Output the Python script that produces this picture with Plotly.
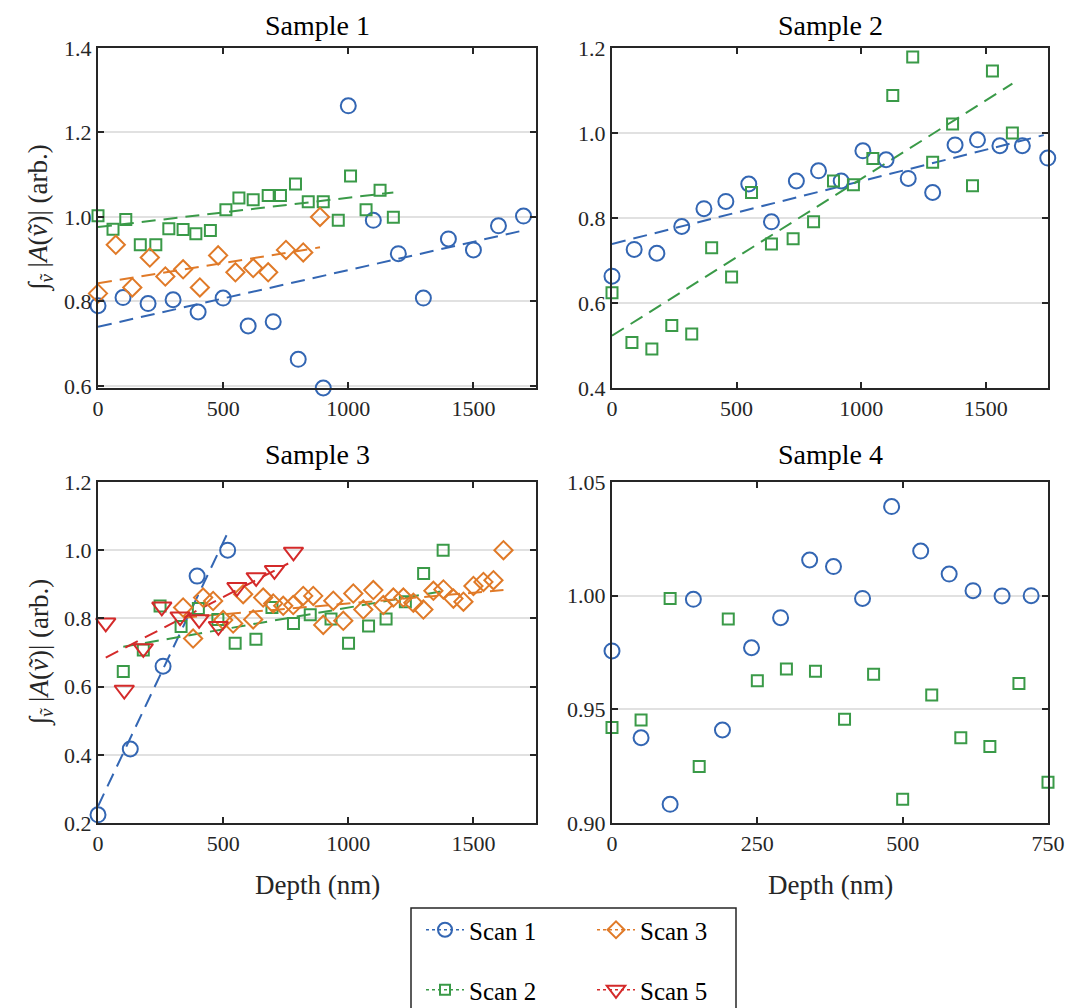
import plotly.graph_objects as go

# ---------------- data ----------------
s1_scan1_x = [0, 100, 200, 300, 400, 500, 600, 700, 800, 900, 1000, 1100, 1200, 1300, 1400, 1500, 1600, 1700]
s1_scan1_y = [0.790, 0.809, 0.795, 0.804, 0.775, 0.808, 0.742, 0.752, 0.663, 0.595, 1.263, 0.992, 0.913, 0.808, 0.948, 0.922, 0.979, 1.002]
s1_scan2_x = [0, 60, 111, 169, 231, 283, 340, 391, 449, 511, 563, 620, 680, 729, 789, 840, 900, 960, 1009, 1071, 1127, 1180]
s1_scan2_y = [1.003, 0.971, 0.994, 0.934, 0.934, 0.972, 0.970, 0.960, 0.968, 1.017, 1.045, 1.041, 1.051, 1.051, 1.078, 1.036, 1.036, 0.992, 1.097, 1.017, 1.063, 0.999]
s1_scan3_x = [0, 71, 137, 207, 269, 340, 407, 480, 549, 620, 680, 751, 820, 887]
s1_scan3_y = [0.819, 0.934, 0.833, 0.904, 0.859, 0.876, 0.833, 0.909, 0.869, 0.879, 0.869, 0.922, 0.916, 1.000]
s1_fit1_x = [0, 1700]; s1_fit1_y = [0.740, 0.968]
s1_fit2_x = [0, 1180]; s1_fit2_y = [0.976, 1.058]
s1_fit3_x = [0, 887];  s1_fit3_y = [0.843, 0.928]

s2_scan1_x = [0, 89, 180, 280, 369, 457, 549, 640, 740, 829, 920, 1007, 1100, 1189, 1287, 1377, 1467, 1557, 1647, 1749]
s2_scan1_y = [0.663, 0.726, 0.717, 0.780, 0.822, 0.839, 0.880, 0.791, 0.887, 0.911, 0.887, 0.958, 0.937, 0.893, 0.860, 0.972, 0.984, 0.970, 0.970, 0.941]
s2_scan2_x = [0, 80, 160, 240, 320, 400, 480, 560, 640, 727, 809, 889, 969, 1047, 1127, 1207, 1287, 1367, 1447, 1527, 1607]
s2_scan2_y = [0.624, 0.507, 0.492, 0.547, 0.527, 0.730, 0.661, 0.860, 0.739, 0.751, 0.791, 0.887, 0.878, 0.940, 1.088, 1.179, 0.931, 1.021, 0.876, 1.146, 1.000]
s2_fit1_x = [0, 1733]; s2_fit1_y = [0.739, 0.995]
s2_fit2_x = [0, 1607]; s2_fit2_y = [0.523, 1.116]

s3_scan1_x = [0, 129, 260, 396, 518]
s3_scan1_y = [0.224, 0.417, 0.660, 0.924, 1.000]
s3_scan2_x = [101, 181, 248, 332, 401, 479, 548, 631, 695, 781, 848, 931, 1001, 1081, 1151, 1228, 1301, 1379]
s3_scan2_y = [0.644, 0.707, 0.836, 0.776, 0.829, 0.797, 0.727, 0.739, 0.832, 0.785, 0.811, 0.798, 0.727, 0.778, 0.798, 0.849, 0.932, 1.000]
s3_scan3_x = [340, 380, 420, 460, 500, 540, 580, 620, 660, 700, 740, 780, 820, 860, 900, 940, 980,
              1020, 1060, 1100, 1140, 1180, 1220, 1260, 1300, 1340, 1380, 1420, 1460, 1500, 1540, 1580, 1620]
s3_scan3_y = [0.832, 0.741, 0.861, 0.851, 0.795, 0.785, 0.871, 0.797, 0.861, 0.844, 0.837, 0.839, 0.866, 0.866, 0.781, 0.852, 0.793,
              0.873, 0.826, 0.883, 0.839, 0.861, 0.861, 0.846, 0.826, 0.881, 0.885, 0.858, 0.849, 0.895, 0.907, 0.912, 1.000]
s3_scan5_x = [31, 105, 181, 255, 328, 404, 481, 555, 632, 705, 781]
s3_scan5_y = [0.787, 0.590, 0.712, 0.834, 0.805, 0.797, 0.777, 0.891, 0.920, 0.941, 0.995]
s3_fit1_x = [0, 520];    s3_fit1_y = [0.249, 1.054]
s3_fit2_x = [101, 1379]; s3_fit2_y = [0.717, 0.880]
s3_fit3_x = [340, 1620]; s3_fit3_y = [0.802, 0.883]
s3_fit5_x = [31, 760];   s3_fit5_y = [0.685, 0.961]

s4_scan1_x = [0, 50, 100, 140, 190, 240, 290, 340, 381, 431, 481, 531, 580, 621, 671, 721]
s4_scan1_y = [0.9757, 0.9375, 0.9082, 0.9984, 0.9409, 0.9771, 0.9903, 1.0157, 1.0128, 0.9988, 1.0392, 1.0196, 1.0095, 1.0022, 0.9999, 1.0000]
s4_scan2_x = [0, 50, 100, 150, 200, 250, 300, 350, 400, 450, 500, 550, 600, 650, 700, 750]
s4_scan2_y = [0.942, 0.9453, 0.9988, 0.9248, 0.9897, 0.9626, 0.9677, 0.9667, 0.9456, 0.9654, 0.9104, 0.9563, 0.9375, 0.9336, 0.9614, 0.9179]

x_ticks_depth = [0, 500, 1000, 1500]
x_ticks_s4 = [0, 250, 500, 750]
y_ticks_s1 = [0.6, 0.8, 1.0, 1.2, 1.4]
y_ticks_s2 = [0.4, 0.6, 0.8, 1.0, 1.2]
y_ticks_s3 = [0.2, 0.4, 0.6, 0.8, 1.0, 1.2]
y_ticks_s4 = [0.90, 0.95, 1.00, 1.05]
titles = ["Sample 1", "Sample 2", "Sample 3", "Sample 4"]
scan_names = ["Scan 1", "Scan 2", "Scan 3", "Scan 5"]

# ---------------- style ----------------
BLUE = "#3366b3"
GREEN = "#3a9a48"
ORANGE = "#e07a28"
RED = "#d42a2a"
FONT = "Liberation Serif"
INK = "#262626"
DASH = "14px,8px"

W, H = 1072, 1008
xdom_l = [98 / W, 536 / W]
xdom_r = [612 / W, 1048 / W]
ydom_t = [1 - 388 / H, 1 - 48 / H]
ydom_b = [1 - 823 / H, 1 - 482 / H]

fig = go.Figure()

styles = {
    "Scan 1": dict(color=BLUE, symbol="circle-open", size=15),
    "Scan 2": dict(color=GREEN, symbol="square-open", size=11),
    "Scan 3": dict(color=ORANGE, symbol="diamond-open", size=14),
    "Scan 5": dict(color=RED, symbol="triangle-down-open", size=17),
}


def add_scan(x, y, name, xa, ya):
    st = styles[name]
    fig.add_trace(go.Scatter(
        x=x, y=y, mode="markers", showlegend=False, cliponaxis=False,
        marker=dict(symbol=st["symbol"], size=st["size"], color=st["color"],
                    line=dict(color=st["color"], width=2)),
        xaxis=xa, yaxis=ya, name=name))


def add_fit(x, y, name, xa, ya):
    st = styles[name]
    fig.add_trace(go.Scatter(
        x=x, y=y, mode="lines", showlegend=False,
        line=dict(color=st["color"], width=2, dash=DASH),
        xaxis=xa, yaxis=ya, hoverinfo="skip"))


# Sample 1
add_fit(s1_fit1_x, s1_fit1_y, "Scan 1", "x", "y")
add_fit(s1_fit2_x, s1_fit2_y, "Scan 2", "x", "y")
add_fit(s1_fit3_x, s1_fit3_y, "Scan 3", "x", "y")
add_scan(s1_scan1_x, s1_scan1_y, "Scan 1", "x", "y")
add_scan(s1_scan2_x, s1_scan2_y, "Scan 2", "x", "y")
add_scan(s1_scan3_x, s1_scan3_y, "Scan 3", "x", "y")
# Sample 2
add_fit(s2_fit1_x, s2_fit1_y, "Scan 1", "x2", "y2")
add_fit(s2_fit2_x, s2_fit2_y, "Scan 2", "x2", "y2")
add_scan(s2_scan1_x, s2_scan1_y, "Scan 1", "x2", "y2")
add_scan(s2_scan2_x, s2_scan2_y, "Scan 2", "x2", "y2")
# Sample 3
add_fit(s3_fit1_x, s3_fit1_y, "Scan 1", "x3", "y3")
add_fit(s3_fit2_x, s3_fit2_y, "Scan 2", "x3", "y3")
add_fit(s3_fit3_x, s3_fit3_y, "Scan 3", "x3", "y3")
add_fit(s3_fit5_x, s3_fit5_y, "Scan 5", "x3", "y3")
add_scan(s3_scan1_x, s3_scan1_y, "Scan 1", "x3", "y3")
add_scan(s3_scan2_x, s3_scan2_y, "Scan 2", "x3", "y3")
add_scan(s3_scan3_x, s3_scan3_y, "Scan 3", "x3", "y3")
add_scan(s3_scan5_x, s3_scan5_y, "Scan 5", "x3", "y3")
# Sample 4
add_scan(s4_scan1_x, s4_scan1_y, "Scan 1", "x4", "y4")
add_scan(s4_scan2_x, s4_scan2_y, "Scan 2", "x4", "y4")

# legend entries (2x2, column-major as in the reference)
legend_rows = {"Scan 1": "legend", "Scan 3": "legend", "Scan 2": "legend2", "Scan 5": "legend2"}
for name in ["Scan 1", "Scan 3", "Scan 2", "Scan 5"]:
    st = styles[name]
    fig.add_trace(go.Scatter(
        x=[None], y=[None], mode="lines+markers", name=name, legend=legend_rows[name],
        line=dict(color=st["color"], width=1.5, dash="dot"),
        marker=dict(symbol=st["symbol"], size=st["size"] - 1, color=st["color"],
                    line=dict(color=st["color"], width=2)),
        xaxis="x", yaxis="y"))

tickfont = dict(family=FONT, size=22, color=INK)


def xaxis(dom, anchor, rng, ticks):
    return dict(domain=dom, anchor=anchor, range=rng, tickvals=ticks,
                ticks="inside", ticklen=6, tickwidth=1.5, tickcolor=INK,
                showline=True, linewidth=2, linecolor=INK, mirror="ticks",
                showgrid=False, zeroline=False, tickfont=tickfont, automargin=False)


def yaxis(dom, anchor, rng, ticks, fmt):
    return dict(domain=dom, anchor=anchor, range=rng, tickvals=ticks, tickformat=fmt,
                ticks="inside", ticklen=6, tickwidth=1.5, tickcolor=INK,
                showline=True, linewidth=2, linecolor=INK, mirror="ticks",
                showgrid=True, gridcolor="#e1e1e1", gridwidth=2, zeroline=False,
                tickfont=tickfont, automargin=False)


ann = []
tcx = [(xdom_l[0] + xdom_l[1]) / 2, (xdom_r[0] + xdom_r[1]) / 2]
for i, t in enumerate(titles):
    cx = tcx[i % 2]
    cy = 1 - 25 / H if i < 2 else 1 - 455 / H
    ann.append(dict(text=t, x=cx, y=cy, xref="paper", yref="paper", showarrow=False,
                    xanchor="center", yanchor="middle", font=dict(family=FONT, size=28, color="black")))
for cx in tcx:
    ann.append(dict(text="Depth (nm)", x=cx, y=1 - 885 / H, xref="paper", yref="paper",
                    showarrow=False, xanchor="center", yanchor="middle",
                    font=dict(family=FONT, size=27, color=INK)))
ylab = "<i>∫</i><sub><i>ṽ</i></sub> |<i>A</i>(<i>ṽ</i>)| (arb.)"
for cy in [(ydom_t[0] + ydom_t[1]) / 2, (ydom_b[0] + ydom_b[1]) / 2]:
    ann.append(dict(text=ylab, x=40 / W, y=cy, xref="paper", yref="paper", textangle=-90,
                    showarrow=False, xanchor="center", yanchor="middle",
                    font=dict(family=FONT, size=27, color=INK)))

legfont = dict(family=FONT, size=25, color="black")
fig.update_layout(
    width=W, height=H,
    margin=dict(l=0, r=0, t=0, b=0, pad=0, autoexpand=False),
    paper_bgcolor="white", plot_bgcolor="white",
    xaxis=xaxis(xdom_l, "y", [0, 1750], x_ticks_depth),
    yaxis=yaxis(ydom_t, "x", [0.595, 1.4], y_ticks_s1, ".1f"),
    xaxis2=xaxis(xdom_r, "y2", [0, 1750], x_ticks_depth),
    yaxis2=yaxis(ydom_t, "x2", [0.4, 1.2], y_ticks_s2, ".1f"),
    xaxis3=xaxis(xdom_l, "y3", [0, 1750], x_ticks_depth),
    yaxis3=yaxis(ydom_b, "x3", [0.2, 1.2], y_ticks_s3, ".1f"),
    xaxis4=xaxis(xdom_r, "y4", [0, 750], x_ticks_s4),
    yaxis4=yaxis(ydom_b, "x4", [0.90, 1.05], y_ticks_s4, ".2f"),
    annotations=ann,
    legend=dict(orientation="h", x=421 / W, y=1 - 930 / H, xanchor="left", yanchor="middle",
                font=legfont, bgcolor="rgba(0,0,0,0)", entrywidth=118, entrywidthmode="pixels",
                itemwidth=38, traceorder="normal"),
    legend2=dict(orientation="h", x=421 / W, y=1 - 990 / H, xanchor="left", yanchor="middle",
                 font=legfont, bgcolor="rgba(0,0,0,0)", entrywidth=118, entrywidthmode="pixels",
                 itemwidth=38, traceorder="normal"),
    shapes=[dict(type="rect", xref="paper", yref="paper", x0=411 / W, x1=736 / W,
                 y0=-0.02, y1=1 - 908 / H, line=dict(color=INK, width=1.5), fillcolor="rgba(0,0,0,0)")],
    showlegend=True,
)

fig.write_html("out.html")
